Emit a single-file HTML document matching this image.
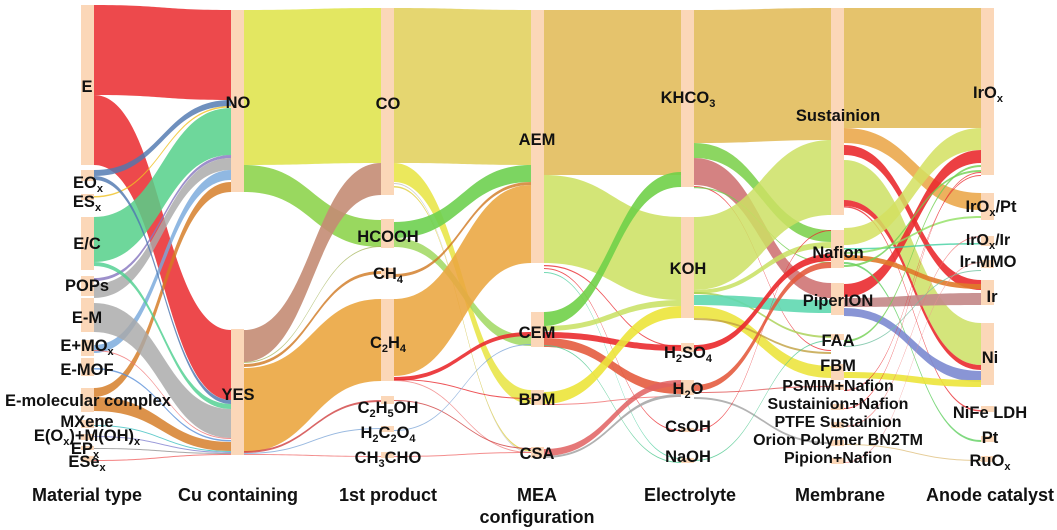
<!DOCTYPE html>
<html><head><meta charset="utf-8"><style>
html,body{margin:0;padding:0;background:#fff;}
svg{display:block;}
text{font-family:"Liberation Sans",Arial,sans-serif;font-weight:bold;fill:#111;text-anchor:middle;}
.l{font-size:16.5px;}
.s{font-size:16px;}
.t{font-size:18px;}
</style></head><body>
<svg id="s" width="1057" height="530" viewBox="0 0 1057 530" xmlns="http://www.w3.org/2000/svg">
<g id="flows"></g>
<g id="bars" fill="#fbd7b8"></g>
<g id="labels">
<text class="l" x="87" y="92">E</text>
<text class="l" x="88" y="188">EO<tspan font-size="11" dy="4">x</tspan></text>
<text class="l" x="87" y="207">ES<tspan font-size="11" dy="4">x</tspan></text>
<text class="l" x="87" y="249">E/C</text>
<text class="l" x="87" y="291">POPs</text>
<text class="l" x="87" y="323">E-M</text>
<text class="l" x="87" y="351">E+MO<tspan font-size="11" dy="4">x</tspan></text>
<text class="l" x="87" y="375">E-MOF</text>
<text class="l" x="88" y="406">E-molecular complex</text>
<text class="l" x="87" y="427">MXene</text>
<text class="l" x="87" y="441">E(O<tspan font-size="11" dy="4">x</tspan><tspan dy="-4">)+M(OH)</tspan><tspan font-size="11" dy="4">x</tspan></text>
<text class="l" x="85" y="454">EP<tspan font-size="11" dy="4">x</tspan></text>
<text class="l" x="87" y="467">ESe<tspan font-size="11" dy="4">x</tspan></text>

<text class="l" x="238" y="108">NO</text>
<text class="l" x="238" y="400">YES</text>

<text class="l" x="388" y="109">CO</text>
<text class="l" x="388" y="242">HCOOH</text>
<text class="l" x="388" y="279">CH<tspan font-size="11" dy="4">4</tspan></text>
<text class="l" x="388" y="348">C<tspan font-size="11" dy="4">2</tspan><tspan dy="-4">H</tspan><tspan font-size="11" dy="4">4</tspan></text>
<text class="l" x="388" y="413">C<tspan font-size="11" dy="4">2</tspan><tspan dy="-4">H</tspan><tspan font-size="11" dy="4">5</tspan><tspan dy="-4">OH</tspan></text>
<text class="l" x="388" y="438">H<tspan font-size="11" dy="4">2</tspan><tspan dy="-4">C</tspan><tspan font-size="11" dy="4">2</tspan><tspan dy="-4">O</tspan><tspan font-size="11" dy="4">4</tspan></text>
<text class="l" x="388" y="463">CH<tspan font-size="11" dy="4">3</tspan><tspan dy="-4">CHO</tspan></text>

<text class="l" x="537" y="145">AEM</text>
<text class="l" x="537" y="338">CEM</text>
<text class="l" x="537" y="405">BPM</text>
<text class="l" x="537" y="459">CSA</text>

<text class="l" x="688" y="103">KHCO<tspan font-size="11" dy="4">3</tspan></text>
<text class="l" x="688" y="274">KOH</text>
<text class="l" x="688" y="358">H<tspan font-size="11" dy="4">2</tspan><tspan dy="-4">SO</tspan><tspan font-size="11" dy="4">4</tspan></text>
<text class="l" x="688" y="394">H<tspan font-size="11" dy="4">2</tspan><tspan dy="-4">O</tspan></text>
<text class="l" x="688" y="432">CsOH</text>
<text class="l" x="688" y="462">NaOH</text>

<text class="l" x="838" y="121">Sustainion</text>
<text class="l" x="838" y="258">Nafion</text>
<text class="l" x="838" y="306">PiperION</text>
<text class="l" x="838" y="346">FAA</text>
<text class="l" x="838" y="371">FBM</text>
<text class="s" x="838" y="391">PSMIM+Nafion</text>
<text class="s" x="838" y="409">Sustainion+Nafion</text>
<text class="s" x="838" y="427">PTFE Sustainion</text>
<text class="s" x="838" y="445">Orion Polymer BN2TM</text>
<text class="s" x="838" y="463">Pipion+Nafion</text>

<text class="l" x="988" y="98">IrO<tspan font-size="11" dy="4">x</tspan></text>
<text class="l" x="991" y="212">IrO<tspan font-size="11" dy="4">x</tspan><tspan dy="-4">/Pt</tspan></text>
<text class="s" x="988" y="245">IrO<tspan font-size="11" dy="4">x</tspan><tspan dy="-4">/Ir</tspan></text>
<text class="l" x="988" y="267">Ir-MMO</text>
<text class="l" x="992" y="302">Ir</text>
<text class="l" x="990" y="363">Ni</text>
<text class="l" x="990" y="418">NiFe LDH</text>
<text class="l" x="990" y="443">Pt</text>
<text class="l" x="990" y="466">RuO<tspan font-size="11" dy="4">x</tspan></text>

<text class="t" x="87" y="501">Material type</text>
<text class="t" x="238" y="501">Cu containing</text>
<text class="t" x="388" y="501">1st product</text>
<text class="t" x="537" y="501">MEA</text>
<text class="t" x="537" y="523">configuration</text>
<text class="t" x="690" y="501">Electrolyte</text>
<text class="t" x="840" y="501">Membrane</text>
<text class="t" x="990" y="501">Anode catalyst</text>
</g>
</svg>
<script>
var NS="http://www.w3.org/2000/svg";
var cx=[81,231,381,531,681,831,981],W=13;
function band(c,a0,a1,b0,b1,col,op){
 var x0=cx[c]+W,x1=cx[c+1],m=(x0+x1)/2;
 var p=document.createElementNS(NS,"path");
 p.setAttribute("d","M"+x0+" "+a0+"C"+m+" "+a0+" "+m+" "+b0+" "+x1+" "+b0+"L"+x1+" "+b1+"C"+m+" "+b1+" "+m+" "+a1+" "+x0+" "+a1+"Z");
 p.setAttribute("fill",col);p.setAttribute("fill-opacity",op||0.82);
 document.getElementById("flows").appendChild(p);
}
function line(c,a,b,col,w){band(c,a,a+(w||1),b,b+(w||1),col,0.8);}
var R="#ea2b2f";
band(0,5,95,10,100,"#ec3a3d",0.92);
band(0,95,165,330,400,"#ec3a3d",0.92);
band(0,170,176,100,106,"#4f78b0");
line(0,196,106,"#f0c020",1.5);
band(0,217,262,108,155,"#55d08a",0.85);
band(0,278,281,155,158,"#8878c0");
band(0,284,298,158,170,"#a8a8a8");
band(0,345,353,170,180,"#78a8dc");
band(0,388,397,182,192,"#d47a22");
band(0,176,180,400,404,"#4f78b0");
band(0,262,266,404,409,"#4fd090");
band(0,303,332,409,438,"#a8a8a8");
line(0,350,438,"#f07070",1);
line(0,368,440,"#5a90d8",1.5);
band(0,397,411,442,451,"#d47a22");
line(0,425,451,"#40c0c0",1);line(0,436,452,"#8080d0",1);line(0,448,453,"#909090",1);line(0,460,454,"#f06060",1);
band(1,10,165,8,163,"#e0e450",0.9);
band(1,165,192,220,247,"#8ed44e",0.9);
band(1,330,362,163,195,"#c48c74",0.9);
line(1,362,246,"#a8b860",1);line(1,364,271,"#d07820",3);
band(1,368,452,299,381,"#eba640",0.9);
line(1,451,400,"#d04040",2);line(1,453,428,"#80a8d8",1);line(1,454,456,"#f07070",1);
band(2,8,163,10,165,"#e2d260",0.9);
band(2,163,182,390,404,"#e8e440",0.85);
line(2,183,452,"#c0c0c0",1);line(2,186,450,"#e0d040",1.5);
band(2,222,238,165,182,"#6ed050",0.9);
band(2,238,247,336,346,"#a0d860",0.85);
line(2,274,182,"#d07820",3);
band(2,299,376,185,263,"#eaa640",0.88);
band(2,377,381,332,336,R,0.9);line(2,379,398,R,1);line(2,380,452,"#f08080",1);
line(2,400,448,"#d04040",1);line(2,430,344,"#80a8d8",1);line(2,456,452,"#f07070",1);
band(3,10,175,10,175,"#e2bd5c",0.9);
band(3,175,263,217,300,"#cde164",0.88);
line(3,265,346,R,1.2);line(3,268,430,R,1);line(3,272,458,"#50d0a0",1);
band(3,312,326,172,187,"#70d048",0.9);
band(3,326,331,300,306,"#c8e060",0.85);
band(3,332,338,345,351,R,0.9);
band(3,338,347,384,394,"#e4583a",0.88);
line(3,345,462,"#50c890",1);
band(3,392,404,306,318,"#ece43a",0.9);
line(3,404,396,"#f07070",1);
band(3,449,456,380,386,"#e06060",0.85);
band(3,456,458,394,397,"#a8a8a8",0.9);
band(4,10,143,8,140,"#e2bd5c",0.9);
band(4,143,158,230,242,"#80d250",0.9);
band(4,158,185,283,298,"#cc6c6c",0.85);
line(4,186,350,R,1);line(4,187,262,"#70d050",1.2);
band(4,217,290,140,215,"#cde164",0.85);
band(4,290,294,242,248,"#c8e060",0.85);
line(4,292,336,"#a8d050",2);
band(4,295,305,300,313,"#5fd8b0",0.9);
band(4,306,318,366,378,"#ece43a",0.88);
line(4,318,352,"#c0a040",2);
band(4,345,351,254,261,R,0.92);
band(4,385,391,262,268,"#e4583a",0.88);
line(4,392,386,"#e05050",1);line(4,397,442,"#a0a0a0",2);line(4,430,230,R,1);line(4,460,340,"#50c890",1);
band(5,8,128,8,128,"#e2bd5c",0.9);
band(5,128,143,193,210,"#eba84c",0.9);
band(5,145,155,280,290,R,0.9);
band(5,160,200,323,365,"#cde164",0.85);
band(5,200,206,365,370,R,0.9);
line(5,206,410,R,1.5);
band(5,228,245,128,150,"#d4e060",0.85);
band(5,284,297,150,163,R,0.9);
line(5,248,243,"#40d0a0",1.5);line(5,252,216,"#90e060",2);
band(5,255,260,284,289,"#e07a2a",0.9);
line(5,262,440,"#60d060",2);line(5,265,170,"#70d050",2);
band(5,298,307,293,305,"#c48a8a",0.92);
band(5,308,316,371,382,"#7c8ad0",0.9);
line(5,340,165,"#70d050",2);line(5,346,270,"#70c0a0",1);
band(5,372,378,380,387,"#ece43a",0.9);
line(5,390,175,R,1);line(5,408,172,R,1);line(5,426,236,"#f07070",1);line(5,444,460,"#e0c080",1);line(5,462,262,"#f09090",1);
var bars=[[0,5,165],[0,170,181],[0,194,200],[0,217,270],[0,276,296],[0,298,332],[0,340,356],[0,358,376],[0,388,412],[0,420,428],[0,434,440],[0,446,450],[0,456,462],
[1,10,192],[1,329,455],
[2,8,195],[2,219,248],[2,268,278],[2,299,381],[2,396,404],[2,426,432],[2,452,458],
[3,10,263],[3,312,347],[3,390,405],[3,447,458],
[4,10,187],[4,217,318],[4,343,352],[4,380,395],[4,428,432],[4,458,463],
[5,8,215],[5,230,268],[5,283,315],[5,334,340],[5,364,380],[5,384,390],[5,404,410],[5,422,428],[5,440,446],[5,458,464],
[6,8,175],[6,193,220],[6,236,246],[6,260,268],[6,280,305],[6,323,385],[6,406,412],[6,436,442],[6,456,462]];
var g=document.getElementById("bars");
bars.forEach(function(b){var r=document.createElementNS(NS,"rect");r.setAttribute("x",cx[b[0]]);r.setAttribute("y",b[1]);r.setAttribute("width",W);r.setAttribute("height",b[2]-b[1]);g.appendChild(r);});
</script>
</body></html>
